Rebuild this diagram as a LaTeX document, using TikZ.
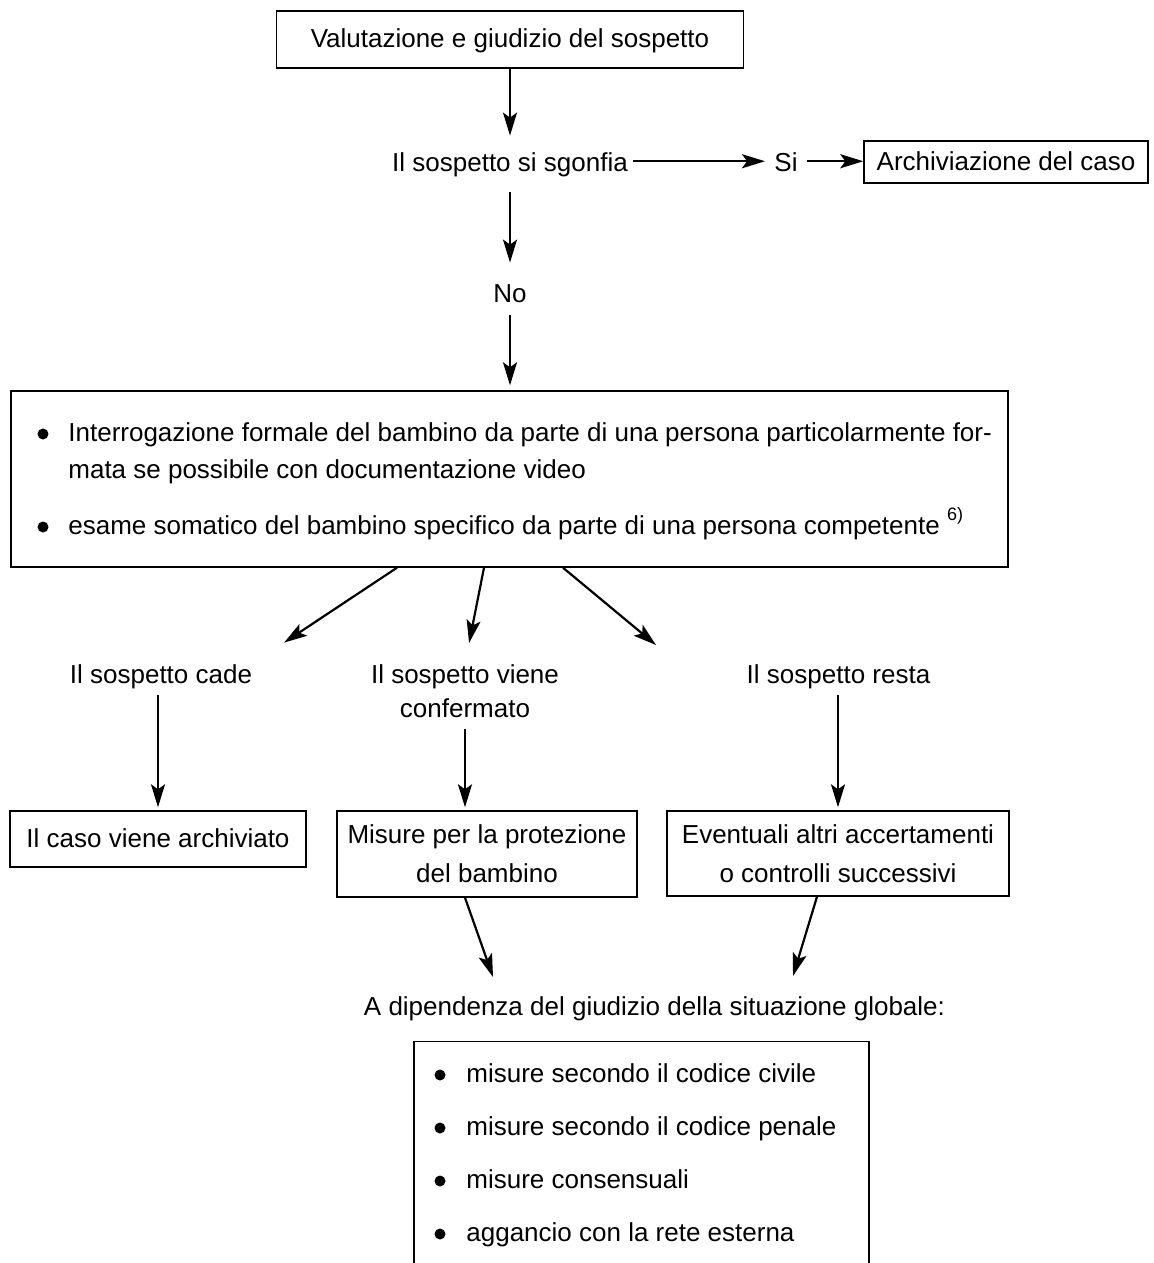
\documentclass[tikz,border=0pt]{standalone}
\usepackage{fontspec}
\setmainfont{Liberation Sans}
\usetikzlibrary{arrows.meta}
\begin{document}
\begin{tikzpicture}[x=0.5pt,y=-0.5pt,
  font=\fontsize{13}{16}\selectfont,
  box/.style={draw, line width=0.7pt, inner sep=0pt, align=center,
    text height=10.5pt, text depth=2.25pt},
  boxtwo/.style={draw, line width=0.7pt, inner sep=0pt, align=center,
    font=\fontsize{13}{19.5}\selectfont},
  framebox/.style={draw, line width=0.7pt, inner sep=0pt},
  lbl/.style={inner sep=0pt, text height=9.5pt, text depth=2.75pt, anchor=base},
  txtline/.style={inner sep=0pt, anchor=base west},
  bul/.style={circle, fill, inner sep=0pt, minimum size=5.5pt},
  arr/.style={-{Stealth[length=11.5pt,width=7pt,inset=2.5pt]}, line width=1.1pt},
]
\useasboundingbox (0,0) rectangle (1154,1263);
\clip (0,0) rectangle (1154,1263);

% top
\node[box, minimum width=233.5pt, minimum height=28.5pt] (A) at (510,39.5)
  {Valutazione e giudizio del sospetto};
\node[lbl, inner xsep=2.5pt] (B) at (510,171) {Il sospetto si sgonfia};
\node[lbl, inner xsep=4.5pt] (Si) at (786,171) {Si};
\node[box, minimum width=142pt, minimum height=21pt] (C) at (1006,162)
  {Archiviazione del caso};
\node[lbl] (No) at (510,302) {No};

\draw[arr, shorten >=8pt] (A.south) -- (B.north);
\draw[arr] ([yshift=1.5pt]B.east) -- ([yshift=1.5pt]Si.west);
\draw[arr] ([yshift=1.5pt]Si.east) -- ([yshift=1.5pt]C.west |- Si.east);
\draw[arr, shorten <=7.75pt, shorten >=10pt] (B.south) -- (No.north);

% big box
\node[framebox, minimum width=498.5pt, minimum height=88pt] (D) at (509.5,479) {};
\draw[arr, shorten <=3.75pt, shorten >=2.5pt] (No.south) -- (No.south |- D.north);
\node[bul] (d1b) at (43,434) {};
\node[txtline] (d1) at (68,441)
  {Interrogazione formale del bambino da parte di una persona particolarmente for-};
\node[txtline] (d2) at (68,478) {mata se possibile con documentazione video};
\node[bul] (d3b) at (43,527) {};
\node[txtline] (d3) at (68,534)
  {esame somatico del bambino specifico da parte di una persona competente \raisebox{7pt}{\fontsize{9}{10}\selectfont 6)}};

% row 3 labels
\node[lbl] (cade) at (161,683) {Il sospetto cade};
\node[lbl] (viene1) at (465,683) {Il sospetto viene};
\node[lbl] (viene2) at (465,717) {confermato};
\node[lbl] (resta) at (838.5,683) {Il sospetto resta};
\coordinate (r3) at (656,645);

\draw[arr, shorten >=19pt] ([xshift=-56.25pt]D.south) -- (cade.north east);
\draw[arr, shorten >=10.5pt] ([xshift=-12.75pt]D.south) -- (viene1.north);
\draw[arr] ([xshift=26.75pt]D.south) -- (r3);

% row 4 boxes
\node[box, minimum width=148pt, minimum height=28pt] (E) at (158,839)
  {Il caso viene archiviato};
\node[boxtwo, minimum width=150pt, minimum height=43pt] (F) at (487,854)
  {Misure per la protezione\\del bambino};
\node[boxtwo, minimum width=171pt, minimum height=42.5pt] (G) at (838,853.5)
  {Eventuali altri accertamenti\\o controlli successivi};

\draw[arr, shorten <=3.25pt, shorten >=1.5pt] (E.north |- cade.south) -- (E.north);
\draw[arr, shorten <=3.25pt, shorten >=1.5pt] (viene2.south) -- (viene2.south |- F.north);
\draw[arr, shorten <=3.25pt, shorten >=1.5pt] (resta.south -| G.north) -- (G.north);

% to global judgement
\node[lbl] (H) at (654.5,1015) {A dipendenza del giudizio della situazione globale:};
\coordinate (h1) at (493,977);
\coordinate (h2) at (793,976);
\draw[arr] ([xshift=-11pt]F.south) -- (h1);
\draw[arr] ([xshift=-10.5pt]G.south) -- (h2);

% bottom box
\node[framebox, anchor=north, minimum width=227.5pt, minimum height=150pt] (I) at (641.5,1041) {};
\node[bul] (i1b) at (440,1075) {};
\node[txtline] (i1) at (466,1082) {misure secondo il codice civile};
\node[bul] (i2b) at (440,1128) {};
\node[txtline] (i2) at (466,1135) {misure secondo il codice penale};
\node[bul] (i3b) at (440,1181) {};
\node[txtline] (i3) at (466,1188) {misure consensuali};
\node[bul] (i4b) at (440,1234) {};
\node[txtline] (i4) at (466,1241) {aggancio con la rete esterna};
\end{tikzpicture}
\end{document}
